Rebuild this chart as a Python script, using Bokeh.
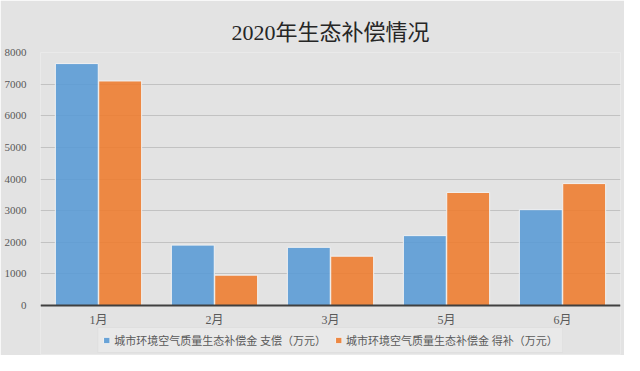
from bokeh.plotting import figure
from bokeh.models import ColumnDataSource, FactorRange, Range1d, Legend, LegendItem, Title, FixedTicker, Span
from bokeh.core.properties import value
from bokeh.transform import dodge
from bokeh.embed import file_html
from bokeh.resources import INLINE

months = ["1月", "2月", "3月", "5月", "6月"]
pay = [7650, 1910, 1840, 2210, 3030]
gain = [7100, 960, 1560, 3575, 3855]
series_names = ["城市环境空气质量生态补偿金 支偿（万元）", "城市环境空气质量生态补偿金 得补（万元）"]
title_text = "2020年生态补偿情况"
y_ticks = [0, 1000, 2000, 3000, 4000, 5000, 6000, 7000, 8000]

SERIF = "'Liberation Serif', 'Noto Sans CJK SC'"
BG = "#e3e3e3"

src = ColumnDataSource(dict(month=months, pay=pay, gain=gain))

p = figure(width=624, height=355, x_range=FactorRange(*months), y_range=Range1d(-1549, 8000),
           output_backend="svg", toolbar_location=None,
           min_border_left=40, min_border_right=4, min_border_top=52, min_border_bottom=1)

p.background_fill_color = BG
p.border_fill_color = BG
p.outline_line_color = None

t = Title(text=title_text, align="center", text_font=SERIF, text_font_size="22px",
          text_color="#262626", text_font_style="normal", standoff=15)
p.add_layout(t, "above")

r1 = p.vbar(x=dodge("month", -0.187, range=p.x_range), top="pay", width=0.37, source=src,
            fill_color="#5B9BD5", fill_alpha=0.9, line_color="#f2f2f2", line_width=1)
r2 = p.vbar(x=dodge("month", 0.187, range=p.x_range), top="gain", width=0.37, source=src,
            fill_color="#ED7D31", fill_alpha=0.9, line_color="#f2f2f2", line_width=1)

# category labels under the baseline
p.text(x="month", y=0, text="month", source=src, text_align="center", text_baseline="top",
       y_offset=7, text_font=value(SERIF), text_font_size="12px", text_color="#595959")

# baseline (category axis line)
p.add_layout(Span(location=0, dimension="width", line_color="#404040", line_width=2))

p.xaxis.visible = False
p.xgrid.grid_line_color = None
p.yaxis.ticker = FixedTicker(ticks=y_ticks)
p.ygrid.grid_line_color = "#c2c2c2"
p.ygrid.grid_line_width = 1
p.ygrid.level = "underlay"

p.yaxis.axis_line_color = None
p.yaxis.major_tick_line_color = None
p.yaxis.minor_tick_line_color = None
p.yaxis.major_label_text_font = SERIF
p.yaxis.major_label_text_font_size = "11px"
p.yaxis.major_label_text_color = "#595959"
p.yaxis.major_label_standoff = 8

legend = Legend(items=[LegendItem(label=series_names[0], renderers=[r1]),
                       LegendItem(label=series_names[1], renderers=[r2])],
                orientation="horizontal", location="bottom_center",
                label_text_font=SERIF, label_text_font_size="11px", label_text_color="#595959",
                glyph_width=8, glyph_height=8, spacing=8, label_standoff=4, label_height=13,
                padding=4, margin=1,
                background_fill_color="#e9e9e9", background_fill_alpha=1,
                border_line_color="#d6d6d6")
p.add_layout(legend, "center")

open("out.html", "w").write(file_html(p, INLINE))
